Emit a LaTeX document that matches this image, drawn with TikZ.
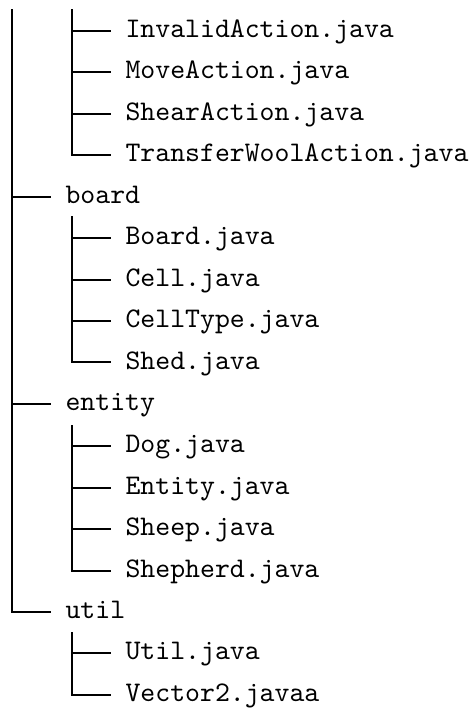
\documentclass[tikz,border=0pt]{standalone}
\begin{document}
\begin{tikzpicture}[x=0.3522pt,y=-0.3522pt,
  lbl/.style={font=\ttfamily\fontsize{10pt}{12pt}\selectfont,inner sep=0pt,anchor=base west},
  br/.style={line width=0.5pt,line cap=rect}]
\useasboundingbox (0,0) rectangle (474,708);
% spines
\coordinate (m0) at (12,10);
\coordinate (a0) at (72,10);
\coordinate (b0) at (72,217);
\coordinate (e0) at (72,426);
\coordinate (u0) at (72,633);
% labels
\node[lbl] (f1) at (125,37.7) {InvalidAction.java};
\node[lbl] (f2) at (125,78.7) {MoveAction.java};
\node[lbl] (f3) at (125,120.7) {ShearAction.java};
\node[lbl] (f4) at (125,161.7) {TransferWoolAction.java};
\node[lbl] (board) at (65,203.7) {board};
\node[lbl] (f5) at (125,244.7) {Board.java};
\node[lbl] (f6) at (125,286.7) {Cell.java};
\node[lbl] (f7) at (125,327.7) {CellType.java};
\node[lbl] (f8) at (125,369.7) {Shed.java};
\node[lbl] (entity) at (65,410.7) {entity};
\node[lbl] (f9) at (125,452.7) {Dog.java};
\node[lbl] (f10) at (125,494.7) {Entity.java};
\node[lbl] (f11) at (125,535.7) {Sheep.java};
\node[lbl] (f12) at (125,577.7) {Shepherd.java};
\node[lbl] (util) at (65,618.7) {util};
\node[lbl] (f13) at (125,659.7) {Util.java};
\node[lbl] (f14) at (125,701.7) {Vector2.javaa};
% main spine
\draw[br] (m0) |- (50,612);
\draw[br] (12,197) -- (50,197);
\draw[br] (12,404) -- (50,404);
% action group
\draw[br] (a0) |- (110,155);
\foreach \y in {31,72,114} \draw[br] (72,\y) -- (110,\y);
% board group
\draw[br] (b0) |- (110,362);
\foreach \y in {238,280,321} \draw[br] (72,\y) -- (110,\y);
% entity group
\draw[br] (e0) |- (110,571);
\foreach \y in {446,488,529} \draw[br] (72,\y) -- (110,\y);
% util group
\draw[br] (u0) |- (110,695);
\draw[br] (72,653) -- (110,653);
\end{tikzpicture}
\end{document}
